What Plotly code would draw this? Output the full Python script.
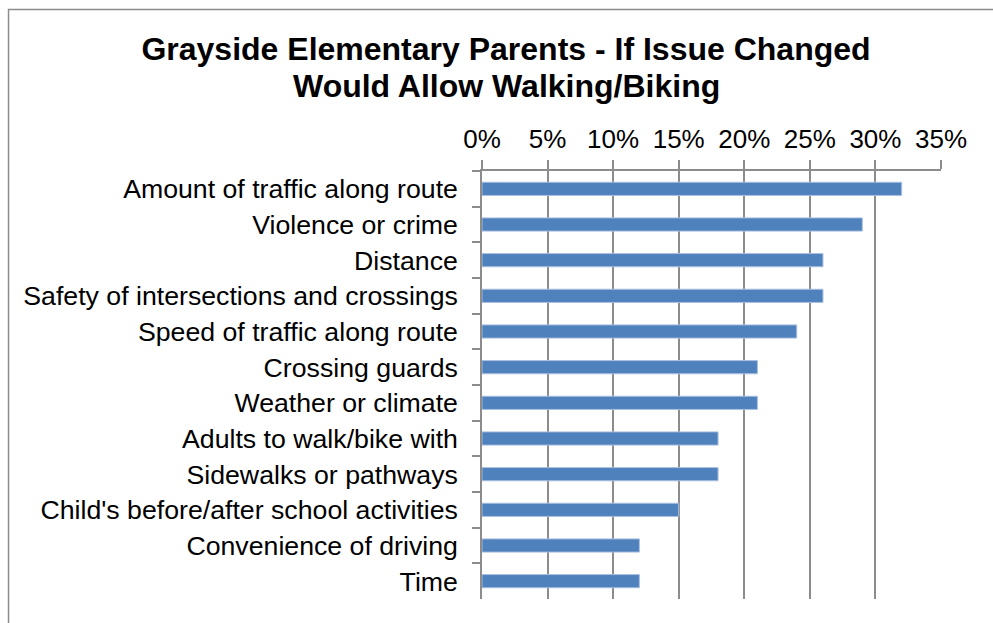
import plotly.graph_objects as go

# Survey responses: share of parents who would allow walking/biking if the issue changed
issues = [
    "Amount of traffic along route",
    "Violence or crime",
    "Distance",
    "Safety of intersections and crossings",
    "Speed of traffic along route",
    "Crossing guards",
    "Weather or climate",
    "Adults to walk/bike with",
    "Sidewalks or pathways",
    "Child's before/after school activities",
    "Convenience of driving",
    "Time",
]
shares = [0.32, 0.29, 0.26, 0.26, 0.24, 0.21, 0.21, 0.18, 0.18, 0.15, 0.12, 0.12]

tick_vals = [0, 0.05, 0.10, 0.15, 0.20, 0.25, 0.30, 0.35]
tick_text = ["0%", "5%", "10%", "15%", "20%", "25%", "30%", "35%"]

title_lines = ["Grayside Elementary Parents - If Issue Changed", "Would Allow Walking/Biking"]

GRID = "#8c8c8c"
FONT = "Liberation Sans, Arial, sans-serif"

fig = go.Figure(
    go.Bar(
        x=shares,
        y=issues,
        orientation="h",
        width=0.37,
        marker=dict(color="#4f81bd", line=dict(color="#a9c0df", width=1)),
        hoverinfo="x+y",
    )
)

W, H = 993, 623
L, R, T, B = 481.5, 51.5, 170.7, 24
pw, ph = W - L - R, H - T - B

fig.update_layout(
    width=W,
    height=H,
    margin=dict(l=L, r=R, t=T, b=B),
    paper_bgcolor="white",
    plot_bgcolor="white",
    showlegend=False,
    font=dict(family=FONT, color="black"),
    title=dict(
        text="<b>" + title_lines[0] + "</b>",
        x=506 / W,
        xanchor="center",
        y=1 - 49 / H,
        yanchor="middle",
        font=dict(size=32, family=FONT, color="black"),
    ),
    annotations=[
        # second title line, set tighter than the default <br> line height
        dict(
            text="<b>" + title_lines[1] + "</b>",
            xref="paper",
            yref="paper",
            x=(506 - L) / pw,
            y=(H - B - 86) / ph,
            xanchor="center",
            yanchor="middle",
            showarrow=False,
            font=dict(size=32, family=FONT, color="black"),
        )
    ],
    xaxis=dict(
        side="top",
        range=[0, 0.35],
        tickvals=tick_vals,
        ticktext=tick_text,
        showgrid=True,
        gridcolor=GRID,
        gridwidth=1.5,
        showline=True,
        linecolor=GRID,
        linewidth=1.5,
        ticks="outside",
        ticklen=9,
        tickcolor=GRID,
        tickwidth=1.5,
        ticklabelstandoff=2,
        tickfont=dict(size=26, color="black"),
        zeroline=False,
        fixedrange=True,
    ),
    yaxis=dict(
        categoryorder="array",
        categoryarray=issues,
        autorange="reversed",
        showline=True,
        linecolor=GRID,
        linewidth=1.5,
        ticks="outside",
        tickson="boundaries",
        ticklen=8,
        tickcolor=GRID,
        tickwidth=1.5,
        ticklabelstandoff=17,
        tickfont=dict(size=26.7, color="black"),
        showgrid=False,
        fixedrange=True,
    ),
    shapes=[
        # chart-area frame, open toward the right and bottom edges of the page
        dict(
            type="rect",
            xref="paper",
            yref="paper",
            x0=(7 - L) / pw,
            x1=(W + 20 - L) / pw,
            y0=-(B + 20) / ph,
            y1=(H - B - 9) / ph,
            line=dict(color="#8c8c8c", width=1.5),
            fillcolor="rgba(0,0,0,0)",
            layer="below",
        )
    ],
)

fig.write_html("out.html")
